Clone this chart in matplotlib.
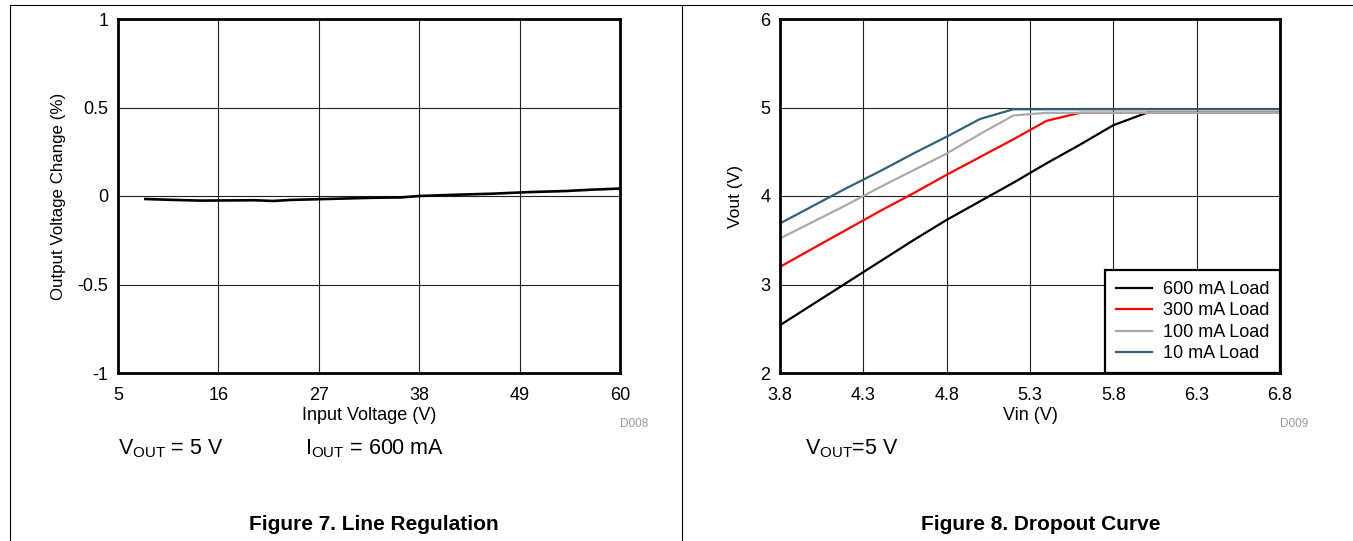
import matplotlib
matplotlib.use("Agg")
import matplotlib.pyplot as plt
from matplotlib.lines import Line2D

plt.rcParams['font.family'] = ['Liberation Sans', 'DejaVu Sans']
plt.rcParams['mathtext.fontset'] = 'custom'
plt.rcParams['mathtext.rm'] = 'Liberation Sans'

# Figure 7 - line regulation
vin_line = [8, 11, 14, 17, 20, 22, 24, 27, 30, 33, 36, 38, 42, 46, 50, 54, 57, 60]
vout_change = [-0.017, -0.022, -0.026, -0.025, -0.024, -0.028, -0.022, -0.018,
               -0.014, -0.010, -0.008, 0.000, 0.007, 0.013, 0.022, 0.028,
               0.036, 0.042]
line_xticks = [5, 16, 27, 38, 49, 60]
line_yticks = [-1, -0.5, 0, 0.5, 1]
line_yticklabels = ['-1', '-0.5', '0', '0.5', '1']

# Figure 8 - dropout curve
vin = [3.8, 4.0, 4.2, 4.4, 4.6, 4.8, 5.0, 5.2, 5.4, 5.6, 5.8, 6.0, 6.2, 6.4, 6.6, 6.8]
vout_600 = [2.54, 2.78, 3.02, 3.26, 3.50, 3.73, 3.94, 4.15, 4.37, 4.58, 4.80,
            4.94, 4.94, 4.94, 4.94, 4.94]
vout_300 = [3.20, 3.41, 3.62, 3.83, 4.03, 4.24, 4.44, 4.64, 4.85, 4.94, 4.94,
            4.94, 4.94, 4.94, 4.94, 4.94]
vout_100 = [3.52, 3.71, 3.90, 4.10, 4.29, 4.48, 4.70, 4.91, 4.94, 4.94, 4.94,
            4.94, 4.94, 4.94, 4.94, 4.94]
vout_10 = [3.69, 3.89, 4.09, 4.28, 4.48, 4.67, 4.87, 4.98, 4.98, 4.98, 4.98,
           4.98, 4.98, 4.98, 4.98, 4.98]
loads = ['600 mA Load', '300 mA Load', '100 mA Load', '10 mA Load']
colors = ['#000000', '#FF0000', '#AAAAAA', '#2E6378']
drop_xticks = [3.8, 4.3, 4.8, 5.3, 5.8, 6.3, 6.8]
drop_yticks = [2, 3, 4, 5, 6]

W, H = 1353, 541
fig = plt.figure(figsize=(W / 100, H / 100), dpi=100)


def px_axes(x0, y0, x1, y1):
    return fig.add_axes([x0 / W, 1 - y1 / H, (x1 - x0) / W, (y1 - y0) / H])


def style(ax):
    ax.grid(True, color='#222222', linewidth=0.8)
    ax.set_axisbelow(True)
    for s in ax.spines.values():
        s.set_linewidth(2.0)
    ax.tick_params(length=0, labelsize=13)
    ax.tick_params(axis='x', pad=10)
    ax.tick_params(axis='y', pad=7)


ax1 = px_axes(118, 19, 620, 373)
ax1.plot(vin_line, vout_change, color='black', linewidth=1.9)
ax1.set_xlim(5, 60)
ax1.set_ylim(-1, 1)
ax1.set_xticks(line_xticks)
ax1.set_yticks(line_yticks)
ax1.set_yticklabels(line_yticklabels)
style(ax1)
ax1.set_xlabel('Input Voltage (V)', fontsize=13, labelpad=2)
ax1.set_ylabel('Output Voltage Change (%)', fontsize=12.2, labelpad=8)

ax2 = px_axes(780, 19, 1280, 373)
for y, lab, c in zip([vout_600, vout_300, vout_100, vout_10], loads, colors):
    ax2.plot(vin, y, color=c, linewidth=1.6, label=lab)
ax2.set_xlim(3.8, 6.8)
ax2.set_ylim(2, 6)
ax2.set_xticks(drop_xticks)
ax2.set_yticks(drop_yticks)
style(ax2)
ax2.set_xlabel('Vin (V)', fontsize=13, labelpad=2)
ax2.set_ylabel('Vout (V)', fontsize=12.5, labelpad=12)
leg = ax2.legend(loc='lower right', borderaxespad=0, fancybox=False,
                 framealpha=1, edgecolor='black', fontsize=13,
                 handlelength=2.0, handletextpad=0.6, labelspacing=0.24,
                 borderpad=0.6)
leg.get_frame().set_linewidth(1.6)


def ftext(x, y, s, **kw):
    fig.text(x / W, 1 - y / H, s, **kw)


ftext(634, 424, 'D008', fontsize=8.5, color='#999999', ha='center', va='center')
ftext(1294, 424, 'D009', fontsize=8.5, color='#999999', ha='center', va='center')
ftext(118, 449, r'V$_{\mathrm{OUT}}$ = 5 V', fontsize=15.5, va='center')
ftext(305, 449, r'I$_{\mathrm{OUT}}$ = 600 mA', fontsize=15.5, va='center')
ftext(805, 449, r'V$_{\mathrm{OUT}}$=5 V', fontsize=15.5, va='center')
ftext(374, 524, 'Figure 7. Line Regulation', fontsize=15, weight='bold',
      ha='center', va='center')
ftext(1041, 524, 'Figure 8. Dropout Curve', fontsize=15, weight='bold',
      ha='center', va='center')

# page frame
fr = dict(color='black', linewidth=0.8, transform=fig.transFigure)
fig.add_artist(Line2D([10 / W, 1], [1 - 5 / H, 1 - 5 / H], **fr))
fig.add_artist(Line2D([10 / W, 10 / W], [0, 1 - 5 / H], **fr))
fig.add_artist(Line2D([682 / W, 682 / W], [0, 1 - 5 / H], **fr))

fig.savefig('out.png', dpi=100)
